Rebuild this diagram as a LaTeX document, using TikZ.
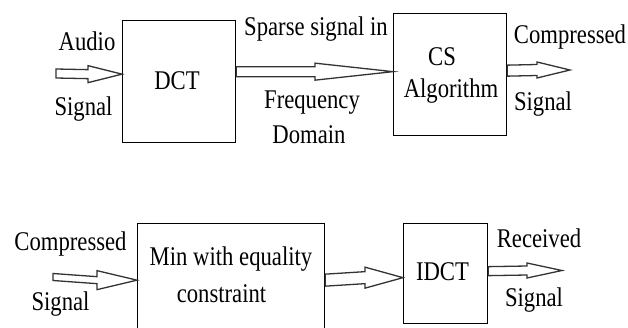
\documentclass[tikz,border=0pt]{standalone}
\usepackage{fontspec}
\setmainfont{Liberation Serif}
\usetikzlibrary{calc}
\newcommand\blockarr[5]{% #1 tail, #2 tip, #3 head length, #4 shaft half width, #5 head half width
  \draw[barrow] ($(#1)+(0,-#4)$) -- ($(#2)+(-#3,-#4)$) -- ($(#2)+(-#3,-#5)$) -- (#2)
    -- ($(#2)+(-#3,#5)$) -- ($(#2)+(-#3,#4)$) -- ($(#1)+(0,#4)$) -- cycle;}
\begin{document}
\begin{tikzpicture}[x=1pt,y=-1pt,
  box/.style={draw, line width=1.3pt, inner sep=0pt, anchor=north west},
  lbl/.style={font=\fontsize{27}{30}\selectfont, anchor=base, inner sep=0pt, xscale=0.84, transform shape},
  barrow/.style={draw=black!80, line width=1.3pt, fill=white, line join=miter}]
\useasboundingbox (0,0) rectangle (628,327);
% boxes
\node[box, minimum width=113pt, minimum height=122pt] (dct) at (122,20) {};
\node[box, minimum width=113pt, minimum height=122pt] (cs) at (393,13) {};
\begin{scope}
\clip (0,0) rectangle (628,327);
\node[box, minimum width=187pt, minimum height=115pt] (minbox) at (137,223) {};
\end{scope}
\node[box, minimum width=84pt, minimum height=100pt] (idct) at (403,223) {};
% labels
\node[lbl] (l1) at (87,50) {Audio};
\node[lbl] (l2) at (83.5,115) {Signal};
\node[lbl] (l3) at (177,89) {DCT};
\node[lbl] (l4) at (316,35) {Sparse signal in};
\node[lbl] (l5) at (312,108) {Frequency};
\node[lbl] (l6) at (309,143) {Domain};
\node[lbl] (l7) at (442,65) {CS};
\node[lbl] (l8) at (451,97) {Algorithm};
\node[lbl] (l9) at (570,43) {Compressed};
\node[lbl] (l10) at (543,110) {Signal};
\node[lbl] (l11) at (70.5,250) {Compressed};
\node[lbl] (l12) at (60.5,310) {Signal};
\node[lbl] (l13) at (231,265) {Min with equality};
\node[lbl] (l14) at (221.5,302) {constraint};
\node[lbl] (l15) at (442.5,280) {IDCT};
\node[lbl] (l16) at (539,247) {Received};
\node[lbl] (l17) at (534,306) {Signal};
% arrow end points
\coordinate (t1) at (56,73.5);
\coordinate (p1) at ([yshift=7.5pt]dct.west);
\coordinate (t2) at ([yshift=10pt]dct.east);
\coordinate (p2) at ([yshift=3pt]cs.west);
\coordinate (t3) at ([yshift=4pt]cs.east);
\coordinate (p3) at (570,70);
\coordinate (t4) at (53,277);
\coordinate (p4) at ([yshift=1pt]minbox.west);
\coordinate (t5) at ([yshift=1pt]minbox.east);
\coordinate (p5) at ([yshift=-4pt]idct.west);
\coordinate (t6) at ([yshift=2.5pt]idct.east);
\coordinate (p6) at (562,270.5);
% block arrows
\blockarr{t1}{p1}{34}{4.5}{8.5}
\blockarr{t2}{p2}{78}{5}{8.5}
\blockarr{t3}{p3}{33}{5.5}{8}
\blockarr{t4}{p4}{40}{3.5}{9.5}
\blockarr{t5}{p5}{38}{6}{10.5}
\blockarr{t6}{p6}{35}{4.5}{7.5}
\end{tikzpicture}
\end{document}
